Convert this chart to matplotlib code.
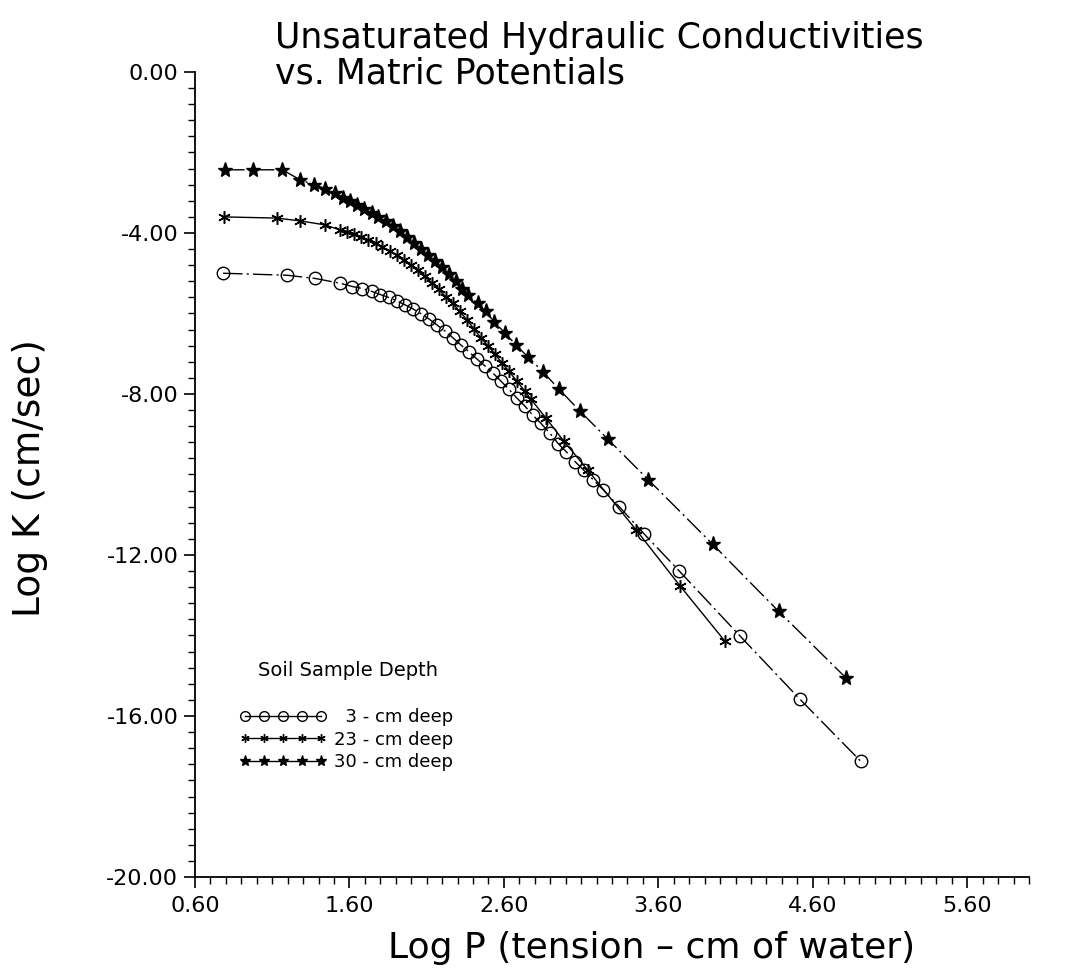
import matplotlib
matplotlib.use("Agg")
import matplotlib.pyplot as plt
from matplotlib.lines import Line2D
from matplotlib.ticker import MultipleLocator, FixedLocator, FixedFormatter

# ---- data (Log P, Log K) ----
x_3cm = [0.782, 1.197, 1.379, 1.542, 1.619, 1.684, 1.743, 1.801, 1.853, 1.905,
         1.957, 2.009, 2.061, 2.113, 2.165, 2.217, 2.269, 2.321, 2.373, 2.425,
         2.477, 2.529, 2.581, 2.632, 2.684, 2.736, 2.788, 2.840, 2.899, 2.951,
         3.003, 3.061, 3.119, 3.178, 3.243, 3.347, 3.509, 3.736, 4.126, 4.516,
         4.912]
k_3cm = [-5.00, -5.05, -5.13, -5.25, -5.33, -5.38, -5.45, -5.53, -5.60, -5.68,
         -5.78, -5.88, -6.00, -6.13, -6.28, -6.43, -6.60, -6.78, -6.95, -7.13,
         -7.30, -7.48, -7.68, -7.88, -8.10, -8.30, -8.53, -8.73, -8.98, -9.23,
         -9.43, -9.68, -9.90, -10.13, -10.38, -10.80, -11.48, -12.40, -14.00, -15.58,
         -17.13]

x_23cm = [0.788, 1.132, 1.282, 1.444, 1.542, 1.587, 1.632, 1.678, 1.723, 1.769,
          1.814, 1.860, 1.905, 1.951, 1.996, 2.042, 2.087, 2.132, 2.178, 2.223,
          2.269, 2.314, 2.360, 2.405, 2.451, 2.496, 2.542, 2.587, 2.632, 2.684,
          2.736, 2.775, 2.873, 2.990, 3.145, 3.457, 3.743, 4.029]
k_23cm = [-3.60, -3.63, -3.70, -3.80, -3.93, -3.98, -4.03, -4.10, -4.18, -4.25,
          -4.35, -4.45, -4.55, -4.68, -4.80, -4.93, -5.08, -5.23, -5.40, -5.58,
          -5.75, -5.95, -6.15, -6.38, -6.60, -6.80, -7.00, -7.23, -7.43, -7.68,
          -7.93, -8.13, -8.60, -9.18, -9.90, -11.38, -12.78, -14.13]

x_30cm = [0.795, 0.977, 1.165, 1.282, 1.373, 1.444, 1.509, 1.561, 1.606, 1.652,
          1.697, 1.743, 1.788, 1.834, 1.879, 1.925, 1.970, 2.016, 2.061, 2.106,
          2.152, 2.197, 2.243, 2.288, 2.327, 2.366, 2.431, 2.483, 2.535, 2.606,
          2.678, 2.756, 2.853, 2.957, 3.094, 3.275, 3.535, 3.951, 4.379, 4.814]
k_30cm = [-2.43, -2.43, -2.43, -2.68, -2.80, -2.90, -3.00, -3.12, -3.20, -3.30,
          -3.40, -3.50, -3.60, -3.70, -3.83, -3.95, -4.10, -4.25, -4.40, -4.55,
          -4.70, -4.85, -5.03, -5.20, -5.38, -5.53, -5.75, -5.95, -6.20, -6.48,
          -6.78, -7.08, -7.45, -7.88, -8.43, -9.13, -10.13, -11.73, -13.40, -15.05]

legend_title = "Soil Sample Depth"
legend_labels = ["\u20073 - cm deep", "23 - cm deep", "30 - cm deep"]
x_tick_vals = [0.6, 1.6, 2.6, 3.6, 4.6, 5.6]
x_tick_labels = ["0.60", "1.60", "2.60", "3.60", "4.60", "5.60"]
y_tick_vals = [0, -4, -8, -12, -16, -20]
y_tick_labels = ["0.00", "-4.00", "-8.00", "-12.00", "-16.00", "-20.00"]
title_text = "Unsaturated Hydraulic Conductivities\nvs. Matric Potentials"
xlabel_text = "Log P (tension \u2013 cm of water)"
ylabel_text = "Log K (cm/sec)"

plt.rcParams["font.family"] = ["DejaVu Sans"]

W, H = 1072, 975
fig = plt.figure(figsize=(W / 100, H / 100), dpi=100)
fig.patch.set_facecolor("white")
ax = fig.add_axes([195 / W, 1 - 877 / H, (1029 - 195) / W, (877 - 72) / H])

ax.set_xlim(0.6, 6.0)
ax.set_ylim(-20, 0)

lw = 1.0
ax.plot(x_3cm, k_3cm, color="black", lw=lw, dashes=(14, 3, 1.5, 3),
        marker="o", markersize=9, mfc="none", mec="black", mew=1.0)
ax.plot(x_23cm, k_23cm, color="black", lw=lw, linestyle="-",
        marker=(6, 2, 0), markersize=9, mec="black", mew=1.1)
ax.plot(x_30cm, k_30cm, color="black", lw=lw, dashes=(14, 3, 1.5, 3),
        marker="*", markersize=11, mfc="black", mec="black")

for s in ["top", "right"]:
    ax.spines[s].set_visible(False)
for s in ["left", "bottom"]:
    ax.spines[s].set_linewidth(1.3)

ax.xaxis.set_major_locator(FixedLocator(x_tick_vals))
ax.xaxis.set_major_formatter(FixedFormatter(x_tick_labels))
ax.xaxis.set_minor_locator(MultipleLocator(0.1))
ax.yaxis.set_major_locator(FixedLocator(y_tick_vals))
ax.yaxis.set_major_formatter(FixedFormatter(y_tick_labels))
ax.yaxis.set_minor_locator(MultipleLocator(0.4))

ax.tick_params(axis="both", which="major", direction="out", length=8, width=1.2,
               labelsize=16, pad=4)
ax.tick_params(axis="x", which="major", pad=6)
ax.tick_params(axis="both", which="minor", direction="out", length=5, width=1.0)

# title
fig.text(275 / W, 1 - 83 / H, title_text, ha="left", va="baseline",
         fontsize=25, linespacing=1.02)
# axis labels
fig.text(652 / W, 1 - 948 / H, xlabel_text, ha="center", va="center", fontsize=26)
fig.text(30 / W, 1 - 478 / H, ylabel_text, ha="center", va="center",
         fontsize=27, rotation=90)

# legend
fig.text(258 / W, 1 - 670 / H, legend_title, ha="left", va="center", fontsize=14)
handles = [
    Line2D([], [], color="black", lw=1.0, marker="o", markersize=7,
           mfc="none", mec="black"),
    Line2D([], [], color="black", lw=1.0, marker=(6, 2, 0), markersize=6),
    Line2D([], [], color="black", lw=1.0, marker="*", markersize=8),
]
leg = ax.legend(handles, legend_labels, loc="upper left",
                bbox_to_anchor=(240 / W, 1 - 708 / H),
                bbox_transform=fig.transFigure, frameon=False, numpoints=5,
                handlelength=4.8, handletextpad=0.4, labelspacing=0.25,
                fontsize=13, borderpad=0, borderaxespad=0)

fig.savefig("out.png", dpi=100, facecolor="white")
